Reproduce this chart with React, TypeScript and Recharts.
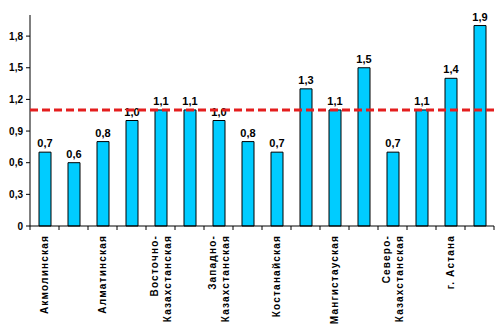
import React from "react";
import { Bar, BarChart, LabelList, ReferenceLine, XAxis, YAxis } from "recharts";

const categories = [
  "Акмолинская",
  "Актюбинская",
  "Алматинская",
  "Атырауская",
  "Восточно-Казахстанская",
  "Жамбылская",
  "Западно-Казахстанская",
  "Карагандинская",
  "Костанайская",
  "Кызылординская",
  "Мангистауская",
  "Павлодарская",
  "Северо-Казахстанская",
  "Южно-Казахстанская",
  "г. Астана",
  "г. Алматы",
];
const values = [0.7, 0.6, 0.8, 1.0, 1.1, 1.1, 1.0, 0.8, 0.7, 1.3, 1.1, 1.5, 0.7, 1.1, 1.4, 1.9];
const yTicks = [0, 0.3, 0.6, 0.9, 1.2, 1.5, 1.8];
const average = 1.1;

const W = 501;
const H = 336;
const margin = { top: 15, right: 7, bottom: 0, left: 0 };
const yAxisWidth = 30;
const step = (W - margin.left - margin.right - yAxisWidth) / categories.length;

const data = categories.map((name, i) => ({ name, value: values[i] }));

const fmt = (v: number) => (v === 0 ? "0" : v.toFixed(1).replace(".", ","));
const font = "'Liberation Sans', Arial, sans-serif";

// only every other region gets a label, like the original
const CategoryTick = (props: any) => {
  const { x, y, payload } = props;
  const index = props.index ?? payload.index;
  const name: string = payload.value;
  const cut = name.indexOf("-") + 1;
  const lines = cut > 0 ? [name.slice(0, cut), name.slice(cut)] : [name];
  const show = index % 2 === 0;
  const offsets = lines.length === 2 ? [-6, 7] : [0];
  return (
    <g>
      <line x1={x - step / 2} x2={x - step / 2} y1={y} y2={y + 4} stroke="#000" />
      {index === categories.length - 1 && (
        <line x1={x + step / 2} x2={x + step / 2} y1={y} y2={y + 4} stroke="#000" />
      )}
      {show &&
        lines.map((l, k) => (
          <text
            key={k}
            x={x + offsets[k] + 3.5}
            y={y + 9}
            transform={`rotate(-90 ${x + offsets[k] + 3.5} ${y + 9})`}
            textAnchor="end"
            fontSize={10}
            fontWeight="bold"
            letterSpacing={1.2}
            fontFamily={font}
            fill="#000"
          >
            {l}
          </text>
        ))}
    </g>
  );
};

export default function App() {
  return (
    <div style={{ position: "absolute", left: 0, top: 0, width: W, height: H, background: "#fff" }}>
      <BarChart width={W} height={H} data={data} margin={margin} barSize={12}>
        <XAxis
          dataKey="name"
          interval={0}
          tickLine={false}
          tickSize={0}
          tickMargin={0}
          height={H - 226}
          axisLine={{ stroke: "#000" }}
          tick={<CategoryTick />}
        />
        <YAxis
          width={yAxisWidth}
          domain={[0, 2.0]}
          ticks={yTicks}
          tickFormatter={fmt}
          tickSize={4}
          tickMargin={3}
          axisLine={{ stroke: "#000" }}
          tickLine={{ stroke: "#000" }}
          tick={{ fontSize: 10, fontWeight: "bold", fill: "#000", fontFamily: font }}
        />
        <Bar dataKey="value" fill="#00CCFF" stroke="#000" strokeWidth={1} isAnimationActive={false}>
          <LabelList
            dataKey="value"
            position="top"
            offset={5}
            formatter={(v: any) => fmt(Number(v))}
            style={{ fontSize: 11, fontWeight: "bold", fill: "#000", fontFamily: font }}
          />
        </Bar>
        <ReferenceLine y={average} stroke="#E41E1E" strokeWidth={3} strokeDasharray="8 4" zIndex={3000} />
      </BarChart>
    </div>
  );
}
